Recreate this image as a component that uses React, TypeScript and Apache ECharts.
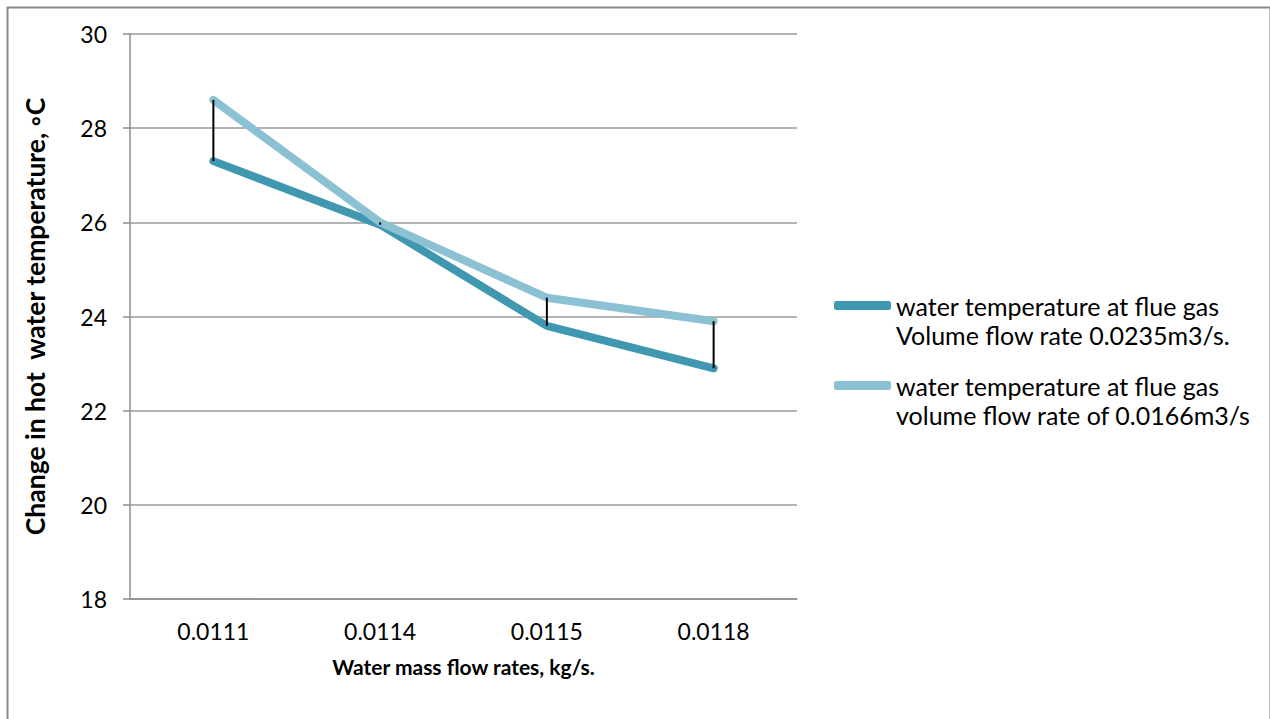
import React, { useEffect, useRef } from "react";
import * as echarts from "echarts";

const categories = ["0.0111", "0.0114", "0.0115", "0.0118"];
const seriesNames = [
  "water temperature at flue gas\nVolume flow rate 0.0235m3/s.",
  "water temperature at flue gas\nvolume flow rate of 0.0166m3/s",
];
const darkValues = [27.3, 25.95, 23.8, 22.9];
const lightValues = [28.6, 26.0, 24.4, 23.9];
const yTicks = { min: 18, max: 30, interval: 2 };

const FONT = "Lato, 'Open Sans', sans-serif";

export default function App() {
  const ref = useRef<HTMLDivElement>(null);
  useEffect(() => {
    if (!ref.current) return;
    const chart = echarts.init(ref.current, null, { renderer: "svg" });
    const hiLow = categories.map((_, i) => [i, darkValues[i], lightValues[i]]);
    chart.setOption({
      animation: false,
      backgroundColor: "#ffffff",
      textStyle: { fontFamily: FONT },
      grid: { left: 130, top: 34, right: 473, bottom: 120 },
      graphic: [
        {
          type: "rect",
          left: 5,
          top: 5,
          shape: { width: 1263, height: 730 },
          style: { fill: "none", stroke: "#8a8a8a", lineWidth: 2 },
          silent: true,
        },
      ],
      legend: {
        orient: "vertical",
        left: 829,
        top: 257,
        itemWidth: 57,
        itemHeight: 9,
        itemGap: -7,
        icon: "roundRect",
        data: seriesNames,
        formatter: (name: string) => "\n" + name,
        textStyle: {
          fontFamily: FONT,
          fontSize: 25,
          color: "#000",
          lineHeight: 29,
        },
      },
      xAxis: {
        type: "category",
        data: categories,
        boundaryGap: true,
        axisLine: { lineStyle: { color: "#8c8c8c", width: 1.5 } },
        axisTick: { show: false },
        axisLabel: { fontSize: 23, color: "#000", margin: 20, fontFamily: FONT },
        name: "Water mass flow rates, kg/s.",
        nameLocation: "middle",
        nameGap: 57,
        nameTextStyle: { fontSize: 21, fontWeight: "bold", color: "#000", fontFamily: FONT },
      },
      yAxis: {
        type: "value",
        min: yTicks.min,
        max: yTicks.max,
        interval: yTicks.interval,
        axisLine: { show: true, lineStyle: { color: "#8c8c8c", width: 1.5 } },
        axisTick: { show: true, length: 7, lineStyle: { color: "#8c8c8c", width: 1.5 } },
        splitLine: { lineStyle: { color: "#9a9a9a", width: 1.5 } },
        axisLabel: { fontSize: 23, color: "#000", margin: 23, fontFamily: FONT },
        name: "Change in hot  water temperature, \u25E6C",
        nameLocation: "middle",
        nameGap: 82,
        nameTextStyle: { fontSize: 26.5, fontWeight: "bold", color: "#000", fontFamily: FONT },
      },
      series: [
        {
          name: seriesNames[0],
          type: "line",
          data: darkValues,
          symbol: "none",
          color: "#3f97b0",
          lineStyle: { width: 8, color: "#3f97b0", cap: "round", join: "round" },
          z: 2,
        },
        {
          name: seriesNames[1],
          type: "line",
          data: lightValues,
          symbol: "none",
          color: "#8cc0d3",
          lineStyle: { width: 8, color: "#8cc0d3", cap: "round", join: "round" },
          z: 3,
        },
        {
          type: "custom",
          data: hiLow,
          z: 5,
          renderItem: (params: any, api: any) => {
            const a = api.coord([api.value(0), api.value(1)]);
            const b = api.coord([api.value(0), api.value(2)]);
            return {
              type: "line",
              shape: { x1: a[0], y1: a[1], x2: b[0], y2: b[1] },
              style: { stroke: "#000", lineWidth: 2 },
            };
          },
        },
      ],
    });
    return () => chart.dispose();
  }, []);
  return (
    <div
      ref={ref}
      style={{ position: "absolute", left: 0, top: 0, width: 1270, height: 719 }}
    />
  );
}
